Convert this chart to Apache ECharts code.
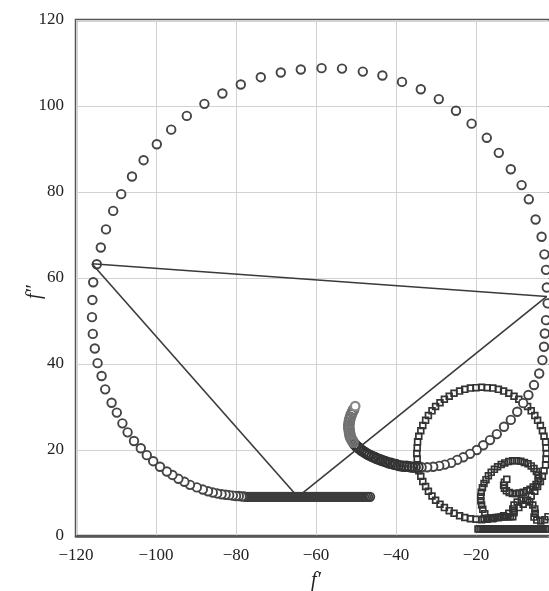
<!DOCTYPE html>
<html><head><meta charset="utf-8">
<script src="https://cdn.jsdelivr.net/npm/echarts@6/dist/echarts.min.js"></script>
<style>html,body{margin:0;padding:0;background:#fff}#c{width:549px;height:591px}</style>
</head><body><div id="c"></div><script>
// axis ranges / tick labels
const xTicks = [-120, -100, -80, -60, -40, -20, 0];
const yTicks = [0, 20, 40, 60, 80, 100, 120];

// circle-marker trajectory (drawn in order)
const circleBand = [[-46.5,9.1],[-47,9.1],[-47.5,9.1],[-48,9.1],[-48.5,9.1],[-49,9.1],[-49.5,9.1],[-50,9.1],[-50.5,9.1],[-51,9.1],[-51.5,9.1],[-52,9.1],[-52.5,9.1],[-53,9.1],[-53.5,9.1],[-54,9.1],[-54.5,9.1],[-55,9.1],[-55.5,9.1],[-56,9.1],[-56.5,9.1],[-57,9.1],[-57.5,9.1],[-58,9.1],[-58.5,9.1],[-59,9.1],[-59.5,9.1],[-60,9.1],[-60.5,9.1],[-61,9.1],[-61.5,9.1],[-62,9.1],[-62.5,9.1],[-63,9.1],[-63.5,9.1],[-64,9.1],[-64.5,9.1],[-65,9.1],[-65.5,9.1],[-66,9.1],[-66.5,9.1],[-67,9.1],[-67.5,9.1],[-68,9.1],[-68.5,9.1],[-69,9.1],[-69.5,9.1],[-70,9.1],[-70.5,9.1],[-71,9.1],[-71.5,9.1],[-72,9.1],[-72.5,9.1],[-73,9.1],[-73.5,9.1],[-74,9.1],[-74.5,9.1],[-75,9.1],[-75.5,9.1],[-76,9.1],[-76.5,9.1],[-77,9.1],[-77.5,9.1],[-78,9.2]];
const circleLoop = [[-78.6,9.2],[-79.3,9.3],[-80,9.3],[-80.8,9.4],[-81.7,9.5],[-82.6,9.6],[-83.6,9.7],[-84.7,9.9],[-85.8,10.1],[-87,10.4],[-88.3,10.8],[-89.8,11.3],[-91.5,11.9],[-92.9,12.6],[-94.4,13.3],[-95.9,14.2],[-97.3,15.0],[-99,16.1],[-100.7,17.4],[-102.3,18.8],[-103.8,20.4],[-105.5,22.1],[-107.1,24.1],[-108.4,26.2],[-109.8,28.7],[-111.1,31.0],[-112.7,34.1],[-113.6,37.2],[-114.6,40.2],[-115.3,43.6],[-115.8,47.0],[-116,50.9],[-115.9,54.9],[-115.7,59.0],[-114.8,63.2],[-113.8,67.1],[-112.5,71.3],[-110.7,75.6],[-108.7,79.5],[-106,83.6],[-103.1,87.4],[-99.8,91.1],[-96.2,94.5],[-92.3,97.7],[-87.9,100.5],[-83.4,102.9],[-78.8,105.0],[-73.8,106.7],[-68.8,107.8],[-63.8,108.5],[-58.6,108.8],[-53.5,108.7],[-48.3,108.0],[-43.4,107.1],[-38.5,105.6],[-33.8,103.9],[-29.3,101.6],[-25,98.9],[-21.1,95.9],[-17.3,92.6],[-14.3,89.1],[-11.3,85.3],[-8.6,81.6],[-6.8,78.3],[-5.1,73.6],[-3.6,69.6],[-2.9,65.5],[-2.5,61.9],[-2.3,57.8],[-2.1,54.1],[-2.5,50.2],[-2.8,47.1],[-3.0,44.0],[-3.4,40.9],[-4.2,37.8],[-5.5,35.1],[-6.9,32.8],[-8.2,30.9],[-9.7,28.9],[-11.3,27.0],[-13,25.4],[-14.8,23.7],[-16.5,22.3],[-18.2,21.1],[-19.8,20.0],[-21.5,19.1],[-23.2,18.3],[-24.7,17.7],[-26.2,17.0],[-27.8,16.6],[-29.2,16.3],[-30.7,16.1],[-32.2,16.0],[-33.6,16.0]];
const circleTail = [[-34.5,16.0],[-35.2,16.0],[-35.9,16.0],[-36.6,16.1],[-37.3,16.2],[-38,16.2],[-38.7,16.3],[-39.4,16.4],[-40,16.6],[-40.6,16.7],[-41.2,16.9],[-41.8,17.0],[-42.4,17.2],[-43,17.4],[-43.6,17.6],[-44.2,17.8],[-44.8,18.0],[-45.4,18.3],[-46,18.5],[-46.6,18.8],[-47.1,19.0],[-47.6,19.3],[-48.1,19.6],[-48.6,19.9],[-49.1,20.3],[-49.5,20.6],[-49.9,20.9],[-50.3,21.3]];
const circleCurl = [[-50.7,21.8],[-51.0,22.3],[-51.3,22.8],[-51.5,23.4],[-51.6,24.0],[-51.7,24.6],[-51.8,25.2],[-51.8,25.8],[-51.7,26.4],[-51.6,27.0],[-51.4,27.6],[-51.2,28.2],[-50.9,28.8],[-50.6,29.4],[-50.2,30.2]];

// square-marker trajectory
const squareBase = [[-2,1.6],[-2.5,1.6],[-3,1.6],[-3.5,1.6],[-4,1.6],[-4.5,1.6],[-5,1.6],[-5.5,1.6],[-6,1.6],[-6.5,1.6],[-7,1.6],[-7.5,1.6],[-8,1.6],[-8.5,1.6],[-9,1.6],[-9.5,1.6],[-10,1.6],[-10.5,1.6],[-11,1.6],[-11.5,1.6],[-12,1.6],[-12.5,1.6],[-13,1.6],[-13.5,1.6],[-14,1.6],[-14.5,1.6],[-15,1.6],[-15.5,1.6],[-16,1.6],[-16.5,1.6],[-17,1.6],[-17.5,1.6],[-18,1.6],[-18.5,1.6],[-19,1.6],[-19.5,1.6]];
const squareLoop = [[-17.2,3.9],[-15.8,4.0],[-14.4,4.3],[-13.1,4.7],[-11.8,5.3],[-10.5,5.9],[-9.3,6.6],[-8.2,7.4],[-7.1,8.3],[-6.2,9.3],[-5.3,10.4],[-4.6,11.5],[-3.9,12.7],[-3.4,13.9],[-3.0,15.2],[-2.6,16.5],[-2.5,17.9],[-2.4,19.2],[-2.5,20.5],[-2.6,21.9],[-3.0,23.2],[-3.4,24.5],[-3.9,25.7],[-4.6,26.9],[-5.3,28.0],[-6.2,29.1],[-7.1,30.1],[-8.2,31.0],[-9.3,31.8],[-10.5,32.5],[-11.8,33.2],[-13.1,33.7],[-14.4,34.1],[-15.8,34.4],[-17.2,34.5],[-18.6,34.6],[-20.0,34.5],[-21.4,34.4],[-22.8,34.1],[-24.1,33.7],[-25.5,33.2],[-26.7,32.5],[-27.9,31.8],[-29.0,31.0],[-30.1,30.1],[-31.0,29.1],[-31.9,28.0],[-32.6,26.9],[-33.3,25.7],[-33.8,24.5],[-34.3,23.2],[-34.6,21.9],[-34.7,20.5],[-34.8,19.2],[-34.7,17.9],[-34.6,16.5],[-34.3,15.2],[-33.8,13.9],[-33.3,12.7],[-32.6,11.5],[-31.9,10.4],[-31.0,9.3],[-30.1,8.3],[-29.0,7.4],[-27.9,6.6],[-26.7,5.9],[-25.5,5.3],[-24.1,4.7],[-22.8,4.3],[-21.4,4.0],[-20.0,3.9],[-18.6,3.8]];
const squareFlat = [[-18,4.0],[-17.4,4.1],[-16.8,4.1],[-16.2,4.2],[-15.6,4.2],[-15,4.3],[-14.4,4.3],[-13.8,4.4],[-13.2,4.4],[-12.6,4.5],[-12,4.5],[-11.4,4.5],[-10.8,4.5]];
const squareHook = [[-10.5,5.4],[-10.8,6.3],[-10.5,7.2],[-9.7,7.9],[-8.7,8.3],[-7.6,8.3],[-6.6,7.9],[-5.8,7.2],[-5.3,6.3],[-5.2,5.3],[-5.5,4.4],[-4.8,3.7],[-3.8,3.5],[-2.8,3.8],[-2.0,4.5]];
const squareGear = [[-17.8,5.2],[-18.3,6.2],[-18.6,7.2],[-18.8,8.2],[-18.8,9.2],[-18.7,10.2],[-18.4,11.2],[-18.0,12.2],[-17.5,13.1],[-16.9,14.0],[-16.2,14.8],[-15.4,15.5],[-14.6,16.1],[-13.7,16.6],[-12.8,17.0],[-11.8,17.3],[-10.8,17.5],[-9.8,17.5],[-8.8,17.4],[-7.9,17.1],[-7.0,16.8],[-6.2,16.3],[-5.5,15.7],[-4.9,15.0],[-4.5,14.2],[-4.3,13.4]];
const squareCurl = [[-4.5,12.7],[-5.0,12.0],[-5.7,11.4],[-6.5,10.9],[-7.3,10.5],[-8.2,10.2],[-9.1,10.0],[-10.0,9.9],[-10.9,9.9],[-11.7,10.1],[-12.4,10.5],[-12.9,11.1],[-13.1,11.8],[-12.9,12.5],[-12.3,13.2]];

// triangle lines
const triTop = [[-116,63.3],[-2.3,55.7]];
const triLeft = [[-116,63.3],[-65.3,9.9]];
const triRight = [[-64,9.5],[-2.3,55.7]];

const serif = 'Liberation Serif';
const fmt = v => String(v).replace('-', '\u2212');

const chart = echarts.init(document.getElementById('c'), null, {renderer: 'canvas'});
const lineStyle = {color: '#3a3a3a', width: 1.6};
const mkLine = d => ({type: 'line', data: d, symbol: 'none', lineStyle, z: 5, silent: true, animation: false});
const hollow = 'rgba(255,255,255,0)';
const curlData = circleCurl.map((p, i) => i === circleCurl.length - 1
  ? {value: p, symbolSize: 8.5, itemStyle: {color: '#fff', borderColor: '#888'}} : p);
chart.setOption({
  animation: false,
  backgroundColor: '#fff',
  grid: {left: 76, top: 20, width: 480, height: 516, show: true, borderColor: '#555', borderWidth: 2.5,
         backgroundColor: 'transparent', containLabel: false, outerBoundsMode: 'none'},
  xAxis: {
    type: 'value', min: xTicks[0], max: xTicks[xTicks.length - 1], interval: 20,
    axisLine: {show: true, lineStyle: {color: '#555', width: 2.5}},
    axisTick: {show: false},
    splitLine: {show: true, lineStyle: {color: '#d2d2d2', width: 1}},
    axisLabel: {formatter: fmt, fontFamily: serif, fontSize: 17, color: '#222', margin: 11, hideOverlap: false},
    name: 'f\u2032', nameLocation: 'middle', nameGap: 35, nameMoveOverlap: false,
    nameTextStyle: {fontFamily: serif, fontStyle: 'italic', fontSize: 20, color: '#222'}
  },
  yAxis: {
    type: 'value', min: yTicks[0], max: yTicks[yTicks.length - 1], interval: 20,
    axisLine: {show: true, lineStyle: {color: '#555', width: 2.5}},
    axisTick: {show: true, length: 8, lineStyle: {color: '#999', width: 1}},
    splitLine: {show: true, lineStyle: {color: '#d2d2d2', width: 1}},
    axisLabel: {fontFamily: serif, fontSize: 17, color: '#222', margin: 12},
    name: 'f\u2033', nameLocation: 'middle', nameGap: 31, nameMoveOverlap: false,
    nameTextStyle: {fontFamily: serif, fontStyle: 'italic', fontSize: 20, color: '#222', padding: [0, 28, 0, 0]}
  },
  series: [
    {type: 'scatter', data: squareBase.concat(squareLoop, squareFlat, squareHook, squareGear, squareCurl.slice(0, -1)),
     symbol: 'rect', symbolSize: 5.8, itemStyle: {color: hollow, borderColor: '#333', borderWidth: 1.7, opacity: 1}, z: 2},
    {type: 'scatter', data: squareCurl.slice(-1),
     symbol: 'rect', symbolSize: 5.8, itemStyle: {color: '#fff', borderColor: '#333', borderWidth: 1.7, opacity: 1}, z: 2},
    {type: 'scatter', data: circleBand,
     symbol: 'circle', symbolSize: 8.5, itemStyle: {color: hollow, borderColor: '#3c3c3c', borderWidth: 1.9, opacity: 1}, z: 3},
    {type: 'scatter', data: circleLoop,
     symbol: 'circle', symbolSize: 8.5, itemStyle: {color: '#fff', borderColor: '#444', borderWidth: 1.9, opacity: 1}, z: 3},
    {type: 'scatter', data: circleTail,
     symbol: 'circle', symbolSize: 9.5, itemStyle: {color: hollow, borderColor: '#333', borderWidth: 2, opacity: 1}, z: 3},
    {type: 'scatter', data: curlData,
     symbol: 'circle', symbolSize: 9.5, itemStyle: {color: hollow, borderColor: '#727272', borderWidth: 2.2, opacity: 1}, z: 3},
    mkLine(triTop), mkLine(triLeft), mkLine(triRight)
  ]
});
</script></body></html>
